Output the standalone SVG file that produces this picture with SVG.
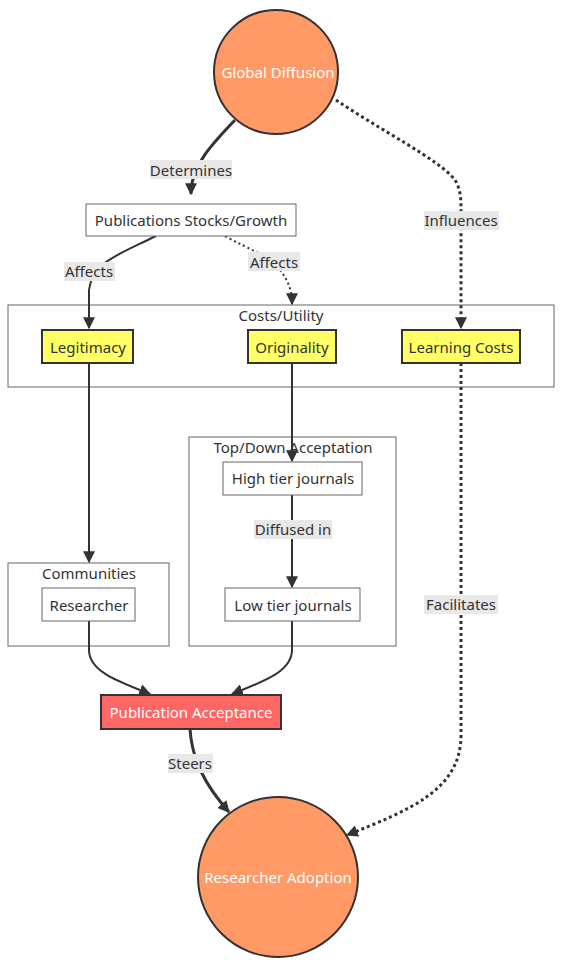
<svg xmlns="http://www.w3.org/2000/svg" width="570" height="979" viewBox="0 0 570 979">
<style>
text{font-family:"Noto Sans","DejaVu Sans",sans-serif;font-size:15px;fill:#333;text-anchor:middle;dominant-baseline:central}
.cl{fill:#fff;stroke:#666;stroke-width:1}
.nd{fill:#fff;stroke:#666;stroke-width:1}
.yl{fill:#ffff66;stroke:#333;stroke-width:2}
.circ{fill:#ff9966;stroke:#333;stroke-width:2}
.red{fill:#ff6666;stroke:#333;stroke-width:2}
.wt{fill:#fff}
.e{fill:none;stroke:#333;stroke-width:2}
.thick{stroke-width:3}
.dot{stroke-width:3;stroke-dasharray:3 3}
.dot2{stroke-width:2;stroke-dasharray:2 3}
.lb{fill:#e8e8e8}
</style>
<defs>
<marker id="ah2" viewBox="0 0 10 10" refX="9" refY="5" markerWidth="12" markerHeight="12" markerUnits="userSpaceOnUse" orient="auto"><path d="M0,0L10,5L0,10z" fill="#333"/></marker>
</defs>
<g id="clusters">
<rect class="cl" x="8" y="305" width="546" height="82"/>
<text x="281" y="315">Costs/Utility</text>
<rect class="cl" x="189" y="437" width="207" height="209"/>
<text x="293" y="447">Top/Down Acceptation</text>
<rect class="cl" x="8" y="563" width="161" height="83"/>
<text x="89" y="573">Communities</text>
</g>
<g id="edges">
<path class="e thick" d="M235,120 C210,146 193,165 191,190 L191,194" marker-end="url(#ah2)"/>
<path class="e" d="M156,236 C120,254 92,262 89,290 L89,328" marker-end="url(#ah2)"/>
<path class="e dot2" d="M225,236 C250,250 270,256 280,270 C290,283 292,293 292,304" marker-end="url(#ah2)"/>
<path class="e dot" d="M336,100 C380,130 440,160 455,180 C461,190 461,200 461,210 L461,328" marker-end="url(#ah2)"/>
<path class="e" d="M89,363 L89,562" marker-end="url(#ah2)"/>
<path class="e" d="M292,363 L292,461" marker-end="url(#ah2)"/>
<path class="e" d="M292,494 L292,587" marker-end="url(#ah2)"/>
<path class="e" d="M89,621 L89,650 C89,672 120,682 150,694" marker-end="url(#ah2)"/>
<path class="e" d="M292,620 L292,650 C292,672 262,682 232,694" marker-end="url(#ah2)"/>
<path class="e thick" d="M190,729 C192,760 205,785 229,812" marker-end="url(#ah2)"/>
<path class="e dot" d="M461,363 L461,735 C461,790 410,810 347,835" marker-end="url(#ah2)"/>
</g>
<g id="edge-labels">
<rect class="lb" x="150" y="160" width="82" height="19"/><text x="191" y="170">Determines</text>
<rect class="lb" x="64" y="262" width="51" height="19"/><text x="89" y="271">Affects</text>
<rect class="lb" x="248" y="252" width="52" height="19"/><text x="274" y="262">Affects</text>
<rect class="lb" x="424" y="211" width="75" height="19"/><text x="461" y="220">Influences</text>
<rect class="lb" x="254" y="520" width="78" height="19"/><text x="293" y="529">Diffused in</text>
<rect class="lb" x="424" y="595" width="74" height="19"/><text x="461" y="604">Facilitates</text>
<rect class="lb" x="168" y="754" width="45" height="19"/><text x="190" y="763">Steers</text>
</g>
<g id="global-diffusion"><circle class="circ" cx="276" cy="72" r="62"/><text class="wt" x="278" y="72">Global Diffusion</text></g>
<g id="publications"><rect class="nd" x="86" y="204" width="210" height="32"/><text x="191" y="220">Publications Stocks/Growth</text></g>
<g id="legitimacy"><rect class="yl" x="42" y="330" width="91" height="33"/><text x="88" y="347">Legitimacy</text></g>
<g id="originality"><rect class="yl" x="248" y="330" width="88" height="33"/><text x="292" y="347">Originality</text></g>
<g id="learning-costs"><rect class="yl" x="402" y="330" width="118" height="33"/><text x="461" y="347">Learning Costs</text></g>
<g id="high-tier"><rect class="nd" x="223" y="462" width="139" height="33"/><text x="293" y="478">High tier journals</text></g>
<g id="low-tier"><rect class="nd" x="225" y="588" width="135" height="33"/><text x="293" y="605">Low tier journals</text></g>
<g id="researcher"><rect class="nd" x="42" y="588" width="93" height="33"/><text x="89" y="605">Researcher</text></g>
<g id="publication-acceptance"><rect class="red" x="101" y="695" width="180" height="34"/><text class="wt" x="191" y="712">Publication Acceptance</text></g>
<g id="researcher-adoption"><circle class="circ" cx="278" cy="877" r="80"/><text class="wt" x="278" y="877">Researcher Adoption</text></g>
</svg>
